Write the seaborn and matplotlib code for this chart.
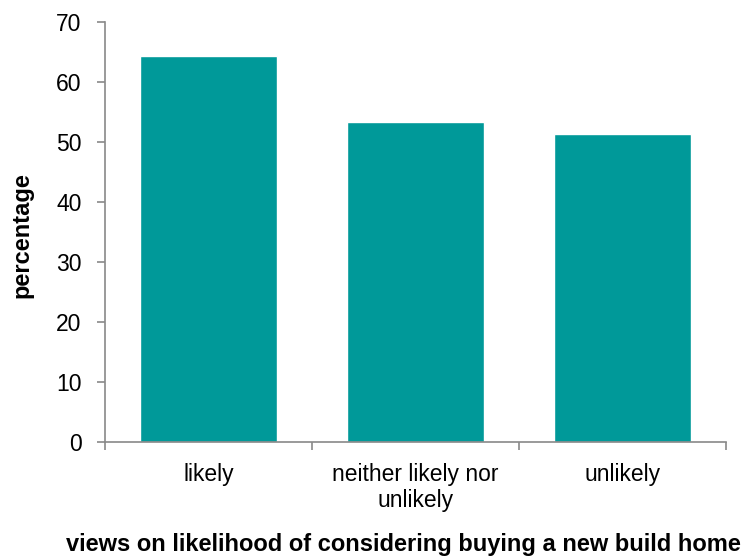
import matplotlib
matplotlib.use("Agg")
import matplotlib.pyplot as plt
import seaborn as sns
import pandas as pd

categories = ["likely", "neither likely nor\nunlikely", "unlikely"]
values = [64.3, 53.3, 51.3]
y_ticks = [0, 10, 20, 30, 40, 50, 60, 70]

sns.set_theme(style="white")
plt.rcParams["font.family"] = ["Liberation Sans", "DejaVu Sans"]
plt.rcParams["text.color"] = "black"
plt.rcParams["xtick.color"] = "black"
plt.rcParams["ytick.color"] = "black"
plt.rcParams["axes.labelcolor"] = "black"

df = pd.DataFrame({"view": categories, "pct": values})

fig = plt.figure(figsize=(7.51, 5.59), dpi=100)
ax = fig.add_axes([105 / 751, 1 - 442 / 559, 621 / 751, 420 / 559])

sns.barplot(data=df, x="view", y="pct", color="#009999", saturation=1,
            width=0.66, ax=ax)

ax.set_xlim(-0.5, 2.5)
ax.set_ylim(0, 70)
ax.set_yticks(y_ticks)

# category boundaries carry the tick marks, labels sit at bar centres
ax.set_xticks([-0.5, 0.5, 1.5, 2.5])
ax.set_xticklabels([])
ax.set_xticks([0, 1, 2], minor=True)
ax.set_xticklabels(categories, minor=True, fontsize=16.5, linespacing=1.2)
ax.tick_params(axis="x", which="minor", bottom=True, length=0, pad=15)
ax.tick_params(axis="x", which="major", bottom=True, length=6, width=1.2,
               color="#898989", direction="out")
ax.tick_params(axis="y", left=True, length=6, width=1.2, color="#898989",
               direction="out", labelsize=16.5, pad=11)

for side in ["top", "right"]:
    ax.spines[side].set_visible(False)
for side in ["left", "bottom"]:
    ax.spines[side].set_color("#898989")
    ax.spines[side].set_linewidth(1.2)

ax.set_ylabel("percentage", fontsize=17, fontweight="bold", va="center")
ax.yaxis.set_label_coords(-0.134, 0.493)
ax.set_xlabel("views on likelihood of considering buying a new build home",
              fontsize=17, fontweight="bold", va="center")
ax.xaxis.set_label_coords(0.48, -0.245)

fig.savefig("out.png", dpi=100)
